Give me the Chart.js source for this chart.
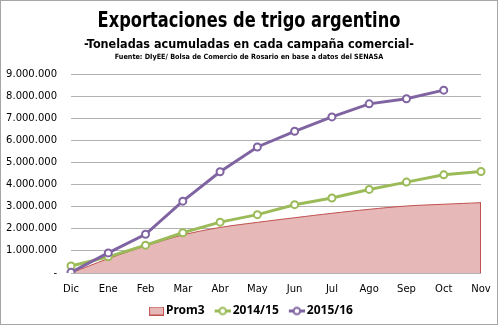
<!DOCTYPE html>
<html>
<head>
<meta charset="utf-8">
<script src="https://cdn.jsdelivr.net/npm/chart.js@4/dist/chart.umd.min.js"></script>
<style>
  html, body { margin: 0; padding: 0; background: #fff; }
  #wrap { width: 499px; height: 326px; }
</style>
</head>
<body>
<div id="wrap"><canvas id="trigoChart"></canvas></div>
<script>
"use strict";

// meses de la campaña comercial (dic - nov)
var meses = ["Dic", "Ene", "Feb", "Mar", "Abr", "May", "Jun", "Jul", "Ago", "Sep", "Oct", "Nov"];

// toneladas acumuladas
var prom3 = [0, 650000, 1220000, 1720000, 2060000, 2290000, 2500000, 2700000, 2880000, 3030000, 3110000, 3180000];
var campania1415 = [320000, 730000, 1260000, 1820000, 2300000, 2640000, 3090000, 3390000, 3780000, 4110000, 4440000, 4590000];
var campania1516 = [30000, 910000, 1750000, 3250000, 4580000, 5700000, 6410000, 7060000, 7650000, 7880000, 8270000, null];

var yTicks = [0, 1000000, 2000000, 3000000, 4000000, 5000000, 6000000, 7000000, 8000000, 9000000];

var titulo = "Exportaciones de trigo argentino";
var subtitulo = "-Toneladas acumuladas en cada campaña comercial-";
var fuente = "Fuente: DIyEE/ Bolsa de Comercio de Rosario en base a datos del SENASA";

var colorProm = "#e6b9b8";
var colorPromBorde = "#c0504d";
var colorVerde = "#9bbb59";
var colorVioleta = "#8064a2";

var fontCond = "'DejaVu Sans Condensed', 'DejaVu Sans', sans-serif";

function formatMiles(v) {
  if (v === 0) return "-";
  return String(v).replace(/\B(?=(\d{3})+(?!\d))/g, ".");
}

// simbolos de la leyenda (con margen transparente a la izquierda
// para separar cada item del anterior)
function simboloCaja() {
  var c = document.createElement("canvas");
  c.width = 22;
  c.height = 9;
  var ctx = c.getContext("2d");
  ctx.fillStyle = colorProm;
  ctx.fillRect(7.5, 0.5, 14, 8);
  ctx.strokeStyle = colorPromBorde;
  ctx.lineWidth = 1;
  ctx.strokeRect(7.5, 0.5, 14, 8);
  return c;
}

function simboloLinea(color) {
  var c = document.createElement("canvas");
  c.width = 22;
  c.height = 11;
  var ctx = c.getContext("2d");
  ctx.strokeStyle = color;
  ctx.lineWidth = 3;
  ctx.beginPath();
  ctx.moveTo(6, 5.5);
  ctx.lineTo(22, 5.5);
  ctx.stroke();
  ctx.beginPath();
  ctx.arc(14, 5.5, 3.3, 0, Math.PI * 2);
  ctx.fillStyle = "#fff";
  ctx.fill();
  ctx.lineWidth = 2;
  ctx.stroke();
  return c;
}

var simbolos = [simboloCaja(), simboloLinea(colorVerde), simboloLinea(colorVioleta)];

// texto condensado centrado
function textoAngosto(ctx, txt, cx, baseY, font, escalaX) {
  ctx.save();
  ctx.font = font;
  ctx.textAlign = "center";
  ctx.textBaseline = "alphabetic";
  ctx.translate(cx, baseY);
  ctx.scale(escalaX, 1);
  ctx.fillText(txt, 0, 0);
  ctx.restore();
}

// encabezado, marco y borde derecho del area
var extrasPlugin = {
  id: "extras",
  afterDatasetsDraw: function (chart) {
    var ctx = chart.ctx;
    var x = chart.scales.x;
    var y = chart.scales.y;
    var last = prom3.length - 1;
    var px = x.getPixelForValue(last);
    ctx.save();
    ctx.strokeStyle = colorPromBorde;
    ctx.lineWidth = 1;
    ctx.beginPath();
    ctx.moveTo(Math.round(px) - 0.5, y.getPixelForValue(prom3[last]));
    ctx.lineTo(Math.round(px) - 0.5, y.getPixelForValue(0));
    ctx.stroke();
    ctx.restore();
  },
  afterDraw: function (chart) {
    var ctx = chart.ctx;
    ctx.save();
    ctx.fillStyle = "#000";
    textoAngosto(ctx, titulo, 249, 26.5, "bold 21.5px " + fontCond, 0.84);
    textoAngosto(ctx, subtitulo, 249, 48, "bold 12.5px " + fontCond, 1);
    textoAngosto(ctx, fuente, 249, 59, "bold 7.2px " + fontCond, 1);
    ctx.strokeStyle = "#a6a6a6";
    ctx.lineWidth = 1;
    ctx.strokeRect(0.5, 0.5, 497, 324);
    ctx.restore();
  },
};

new Chart(document.getElementById("trigoChart"), {
  type: "line",
  data: {
    labels: meses,
    datasets: [
      {
        label: "Prom3",
        data: prom3,
        fill: "origin",
        backgroundColor: colorProm,
        borderColor: colorPromBorde,
        borderWidth: 1,
        pointRadius: 0,
        tension: 0.35,
        order: 3,
      },
      {
        label: "2014/15",
        data: campania1415,
        borderColor: colorVerde,
        backgroundColor: "#fff",
        borderWidth: 3,
        pointRadius: 3.5,
        pointBorderWidth: 2,
        pointBackgroundColor: "#fff",
        pointBorderColor: colorVerde,
        tension: 0,
        order: 2,
      },
      {
        label: "2015/16",
        data: campania1516,
        borderColor: colorVioleta,
        backgroundColor: "#fff",
        borderWidth: 3,
        pointRadius: 3.5,
        pointBorderWidth: 2,
        pointBackgroundColor: "#fff",
        pointBorderColor: colorVioleta,
        tension: 0,
        order: 1,
      },
    ],
  },
  options: {
    responsive: true,
    maintainAspectRatio: false,
    animation: false,
    layout: {
      padding: { left: 0, right: 0, top: 74, bottom: -1 },
    },
    scales: {
      x: {
        offset: false,
        grid: { display: false, drawTicks: false },
        border: { display: false },
        afterFit: function (scale) {
          scale.height = 24;
          scale.paddingRight = 18;
        },
        ticks: {
          color: "#000",
          padding: 10,
          maxRotation: 0,
          autoSkip: false,
          font: { family: "'DejaVu Sans', sans-serif", size: 10 },
        },
      },
      y: {
        min: 0,
        max: 9000000,
        afterBuildTicks: function (scale) {
          scale.ticks = yTicks.map(function (v) {
            return { value: v };
          });
        },
        afterFit: function (scale) {
          scale.width = 71;
        },
        grid: { color: "#b3b3b3", lineWidth: 1, drawTicks: false },
        border: { display: false },
        ticks: {
          color: "#000",
          padding: 14,
          font: { family: "'DejaVu Sans', sans-serif", size: 10 },
          callback: function (v) {
            return formatMiles(v);
          },
        },
      },
    },
    plugins: {
      title: { display: false },
      legend: {
        position: "bottom",
        labels: {
          color: "#000",
          usePointStyle: true,
          pointStyleWidth: 14,
          padding: 8,
          font: { family: "'Noto Sans', sans-serif", size: 12, weight: "bold" },
          generateLabels: function (chart) {
            return chart.data.datasets.map(function (ds, i) {
              return {
                text: ds.label,
                pointStyle: simbolos[i],
                fillStyle: ds.backgroundColor,
                strokeStyle: ds.borderColor,
                lineWidth: 0,
                hidden: false,
                datasetIndex: i,
              };
            });
          },
        },
      },
      tooltip: { enabled: false },
    },
  },
  plugins: [extrasPlugin],
});
</script>
</body>
</html>
